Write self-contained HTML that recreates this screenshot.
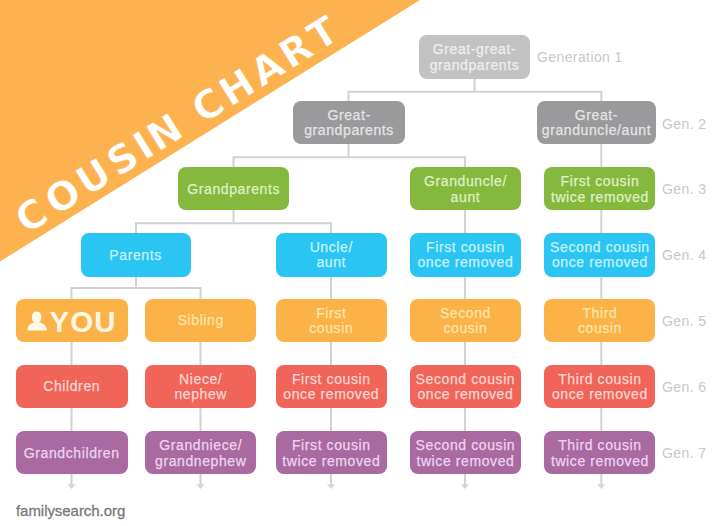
<!DOCTYPE html>
<html><head><meta charset="utf-8"><title>Cousin Chart</title>
<style>
html,body{margin:0;padding:0;background:#fff;}
body{width:720px;height:526px;position:relative;overflow:hidden;font-family:"Liberation Sans",Arial,sans-serif;}
#cv{position:absolute;left:0;top:0;width:720px;height:526px;}
.b{position:absolute;border-radius:8px;-webkit-text-stroke:0.25px currentColor;font-size:14px;line-height:15.5px;text-align:center;display:flex;align-items:center;justify-content:center;letter-spacing:.6px;box-sizing:border-box;padding-top:1.4px;}
.g1{background:#c2c2c2;color:#eeeeee;}
.g2{background:#9a9a9c;color:#e4e4e4;}
.gr{background:#85b93d;color:#dff0c8;}
.bl{background:#2bc5f4;color:#c6f2fd;}
.or{background:#fbb247;color:#fde5ad;}
.rd{background:#f0645a;color:#fcd6d0;}
.pu{background:#a86aa0;color:#f0d4ee;}
.gen{position:absolute;color:#c8c8c8;font-size:14px;line-height:16px;letter-spacing:.4px;}
#you{position:absolute;left:49.5px;top:304.6px;font-size:29.5px;line-height:34px;font-weight:bold;color:#fff6e6;letter-spacing:1.1px;}
#fs{position:absolute;left:16px;top:502px;font-size:15px;color:#7a7a7a;-webkit-text-stroke:0.3px #7a7a7a;letter-spacing:-0.05px;}
</style></head><body>
<svg id="cv" width="720" height="526" viewBox="0 0 720 526">
<polygon points="0,0 420,0 0,261.5" fill="#fcb34f"/>
<g stroke="#d2d2d2" stroke-width="2" fill="none">
<path d="M474.5 77.6 V91.8 M348.5 101.9 V91.8 H601.3 V101.9"/>
<path d="M348.5 143.5 V157.3 M233.5 167.8 V157.3 H465 V167.8"/>
<path d="M601.3 143.5 V167.8"/>
<path d="M233.5 209.20000000000002 V223.3 M136 233.8 V223.3 H331 V233.8"/>
<path d="M465 209.20000000000002 V233.8 M601.3 209.20000000000002 V233.8"/>
<path d="M136 275.6 V287.9 M71.5 300 V287.9 H200.5 V300"/>
<path d="M331 275.6 V300 M465 275.6 V300 M601.3 275.6 V300"/>
<path d="M71.5 340.8 V486 M200.5 340.8 V486 M331 340.8 V486 M465 340.8 V486 M601.3 340.8 V486"/>
</g>
<g fill="#d6d6d6"><polygon points="67.3,484.3 75.7,484.3 71.5,489"/>
<polygon points="196.3,484.3 204.7,484.3 200.5,489"/>
<polygon points="326.8,484.3 335.2,484.3 331,489"/>
<polygon points="460.8,484.3 469.2,484.3 465,489"/>
<polygon points="597.0999999999999,484.3 605.5,484.3 601.3,489"/></g>
<text x="28.3" y="233.6" transform="rotate(-32 28.3 233.6)" font-family="DejaVu Sans, sans-serif" font-weight="bold" font-size="39" letter-spacing="3.4" fill="#fff" stroke="#fcb34f" stroke-width="0.6"><tspan dx="-2">C</tspan><tspan dx="2.5">O</tspan><tspan dx="0.5">U</tspan><tspan dx="1">S</tspan>I<tspan dx="-2">N</tspan> CH<tspan dx="1">A</tspan>R<tspan dx="2">T</tspan></text>
</svg>
<div class="b g1" style="left:419px;top:34.8px;width:111px;height:43.8px;padding-top:2.2px;">Great-great-<br>grandparents</div>
<div class="b g2" style="left:293.3px;top:100.9px;width:111.5px;height:43.6px;padding-top:1.4px;">Great-<br>grandparents</div>
<div class="b g2" style="left:537px;top:100.9px;width:119px;height:43.6px;padding-top:1.4px;">Great-<br>granduncle/aunt</div>
<div class="b gr" style="left:178px;top:166.8px;width:111.4px;height:43.4px;padding-top:3.0px;">Grandparents</div>
<div class="b gr" style="left:410.1px;top:166.8px;width:110.7px;height:43.4px;padding-top:3.0px;">Granduncle/<br>aunt</div>
<div class="b gr" style="left:544.4px;top:166.8px;width:111.1px;height:43.4px;padding-top:3.0px;">First cousin<br>twice removed</div>
<div class="b bl" style="left:80.5px;top:232.8px;width:110.2px;height:43.8px;padding-top:1.4px;">Parents</div>
<div class="b bl" style="left:275.8px;top:232.8px;width:111px;height:43.8px;padding-top:1.4px;">Uncle/<br>aunt</div>
<div class="b bl" style="left:410.1px;top:232.8px;width:110.7px;height:43.8px;padding-top:1.4px;">First cousin<br>once removed</div>
<div class="b bl" style="left:544.4px;top:232.8px;width:111.1px;height:43.8px;padding-top:1.4px;">Second cousin<br>once removed</div>
<div class="b or" style="left:15.8px;top:299px;width:111.8px;height:42.8px;padding-top:1.4px;"></div>
<div class="b or" style="left:145.1px;top:299px;width:111.3px;height:42.8px;padding-top:1.4px;">Sibling</div>
<div class="b or" style="left:275.8px;top:299px;width:111px;height:42.8px;padding-top:1.4px;">First<br>cousin</div>
<div class="b or" style="left:410.1px;top:299px;width:110.7px;height:42.8px;padding-top:1.4px;">Second<br>cousin</div>
<div class="b or" style="left:544.4px;top:299px;width:111.1px;height:42.8px;padding-top:1.4px;">Third<br>cousin</div>
<div class="b rd" style="left:15.8px;top:364.9px;width:111.8px;height:43.2px;padding-top:1.4px;">Children</div>
<div class="b rd" style="left:145.1px;top:364.9px;width:111.3px;height:43.2px;padding-top:1.4px;">Niece/<br>nephew</div>
<div class="b rd" style="left:275.8px;top:364.9px;width:111px;height:43.2px;padding-top:1.4px;">First cousin<br>once removed</div>
<div class="b rd" style="left:410.1px;top:364.9px;width:110.7px;height:43.2px;padding-top:1.4px;">Second cousin<br>once removed</div>
<div class="b rd" style="left:544.4px;top:364.9px;width:111.1px;height:43.2px;padding-top:1.4px;">Third cousin<br>once removed</div>
<div class="b pu" style="left:15.8px;top:430.6px;width:111.8px;height:43.2px;padding-top:2.8px;">Grandchildren</div>
<div class="b pu" style="left:145.1px;top:430.6px;width:111.3px;height:43.2px;padding-top:2.8px;">Grandniece/<br>grandnephew</div>
<div class="b pu" style="left:275.8px;top:430.6px;width:111px;height:43.2px;padding-top:2.8px;">First cousin<br>twice removed</div>
<div class="b pu" style="left:410.1px;top:430.6px;width:110.7px;height:43.2px;padding-top:2.8px;">Second cousin<br>twice removed</div>
<div class="b pu" style="left:544.4px;top:430.6px;width:111.1px;height:43.2px;padding-top:2.8px;">Third cousin<br>twice removed</div>
<svg style="position:absolute;left:0;top:0" width="130" height="345" viewBox="0 0 130 345"><rect x="32" y="311.4" width="9.2" height="11.5" rx="4.6" fill="#fff8ec"/><path d="M27.4 330.5 C27.4 325.5 30.5 323.2 34 322.3 L39.5 322.3 C43 323.2 46.8 325.5 46.8 330.5 Z" fill="#fff8ec"/></svg>
<div id="you">YOU</div>
<div class="gen" style="left:537px;top:49px;">Generation 1</div>
<div class="gen" style="left:662px;top:116px;">Gen. 2</div>
<div class="gen" style="left:662px;top:181px;">Gen. 3</div>
<div class="gen" style="left:662px;top:247px;">Gen. 4</div>
<div class="gen" style="left:662px;top:313px;">Gen. 5</div>
<div class="gen" style="left:662px;top:379px;">Gen. 6</div>
<div class="gen" style="left:662px;top:445px;">Gen. 7</div>
<div id="fs">familysearch.org</div>
</body></html>
